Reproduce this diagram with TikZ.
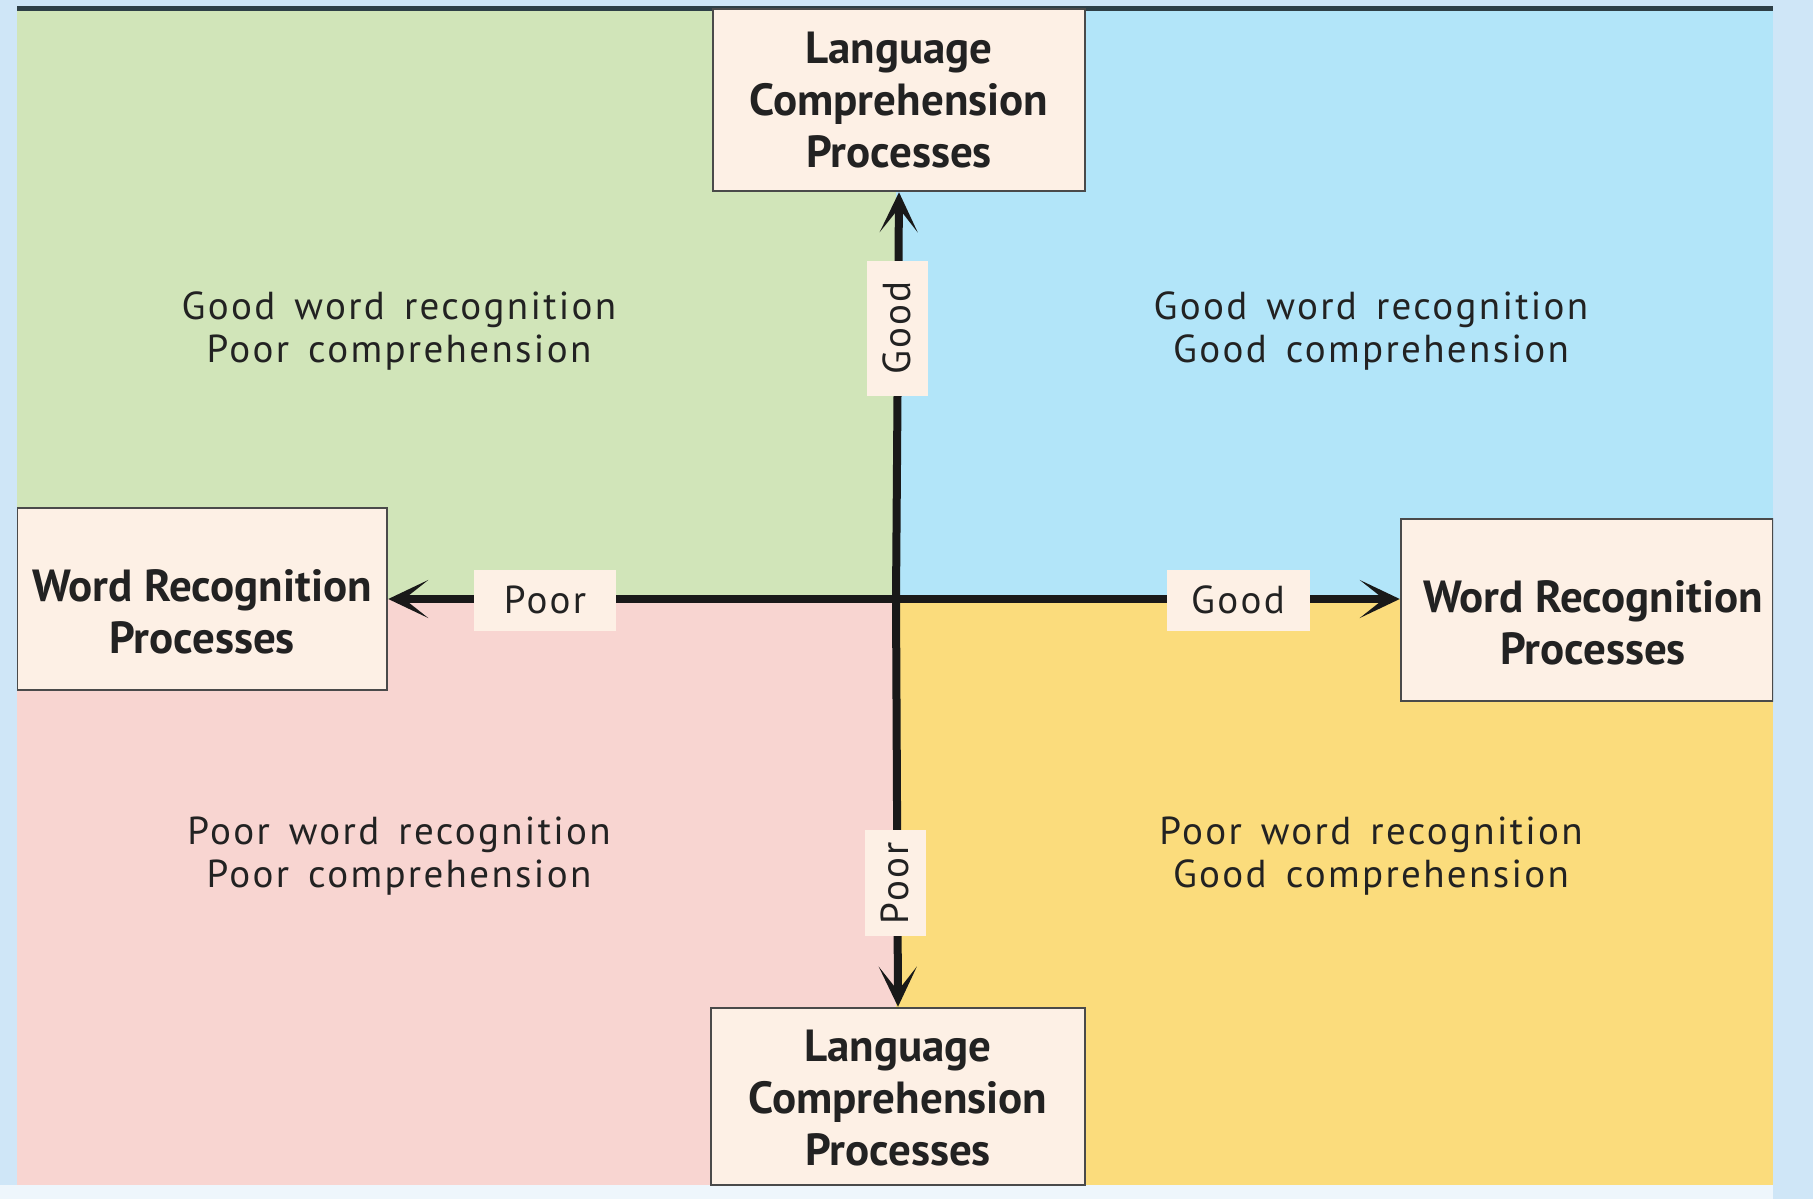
\documentclass[tikz,border=0pt]{standalone}
\usepackage{fontspec}
\setmainfont{PT Sans}
\newfontfamily\quadfont[LetterSpace=6,WordSpace=1.5]{PT Sans}
\usetikzlibrary{arrows.meta}
\definecolor{qgreen}{HTML}{D1E5B9}
\definecolor{qblue}{HTML}{B2E5F9}
\definecolor{qpink}{HTML}{F8D5D1}
\definecolor{qyellow}{HTML}{FBDC7C}
\definecolor{cream}{HTML}{FDF0E5}
\definecolor{boxline}{HTML}{4A4A4A}
\definecolor{topline}{HTML}{2E3F46}
\definecolor{bgblue}{HTML}{CFE6F7}
\definecolor{bglight}{HTML}{EEF6FC}
\definecolor{txt}{HTML}{222222}
\tikzset{
  procbox/.style={draw=boxline, line width=2.5pt, fill=cream, inner sep=0pt},
  proctext/.style={align=center, font=\fontsize{45}{52}\selectfont\bfseries, text=txt, inner sep=0pt},
  lab/.style={fill=cream, inner sep=0pt, font=\quadfont\fontsize{39}{43}\selectfont, text=txt},
  quadtext/.style={align=center, font=\quadfont\fontsize{39}{43}\selectfont, text=txt},
  axisarrow/.style={line width=8pt, draw=black!90, -{Stealth[length=40pt, width=38pt, inset=24pt]}},
}
\begin{document}
\begin{tikzpicture}[x=1pt,y=-1pt]
\useasboundingbox (0,0) rectangle (1813,1199);
% background
\fill[bgblue] (0,0) rectangle (1813,1199);
\fill[bglight] (0,1185) rectangle (1773,1199);
% quadrants
\fill[qgreen] (17,9) rectangle (896,599);
\fill[qblue] (896,9) rectangle (1773,599);
\fill[qpink] (17,599) rectangle (896,1185);
\fill[qyellow] (896,599) rectangle (1773,1185);
\draw[topline, line width=5pt] (17,9) -- (1773,9);
% quadrant texts
\node[quadtext] (tl) at (399,331) {Good word recognition\\Poor comprehension};
\node[quadtext] (tr) at (1371,331) {Good word recognition\\Good comprehension};
\node[quadtext] (bl) at (399,856) {Poor word recognition\\Poor comprehension};
\node[quadtext] (br) at (1371,856) {Poor word recognition\\Good comprehension};
% boxes
\begin{scope}
\clip (17,6) rectangle (1773,1185);
\node[procbox, minimum width=372pt, minimum height=182pt] (lcTop) at (899,100) {};
\node[procbox, minimum width=374pt, minimum height=177pt] (lcBot) at (898,1096.5) {};
\node[procbox, minimum width=370pt, minimum height=182pt] (wrL) at (202,599) {};
\node[procbox, minimum width=372pt, minimum height=182pt] (wrR) at (1587,610) {};
\end{scope}
\node[proctext] (lcTopT) at (lcTop.center) {Language\\Comprehension\\Processes};
\node[proctext] (lcBotT) at ([yshift=-2pt]lcBot.center) {Language\\Comprehension\\Processes};
\node[proctext] (wrLT) at ([yshift=-13pt]wrL.center) {Word Recognition\\Processes};
\node[proctext] (wrRT) at ([xshift=6pt,yshift=-13pt]wrR.center) {Word Recognition\\Processes};
% axes
\coordinate (c) at (896,599);
\draw[axisarrow] (c) -- (lcTop.south);
\draw[axisarrow] (c) -- (lcBot.north);
\draw[axisarrow] (c) -- (wrL.east);
\draw[axisarrow] (c) -- (c -| wrR.west);
% axis labels
\node[lab, minimum width=142pt, minimum height=61pt] (poorH) at (545,600) {Poor};
\node[lab, minimum width=143pt, minimum height=61pt] (goodH) at (1238,600) {Good};
\node[lab, rotate=90, minimum width=135pt, minimum height=61pt] (goodV) at (897,328) {Good};
\node[lab, rotate=90, minimum width=106pt, minimum height=61pt] (poorV) at (895,883) {Poor};
\end{tikzpicture}
\end{document}
